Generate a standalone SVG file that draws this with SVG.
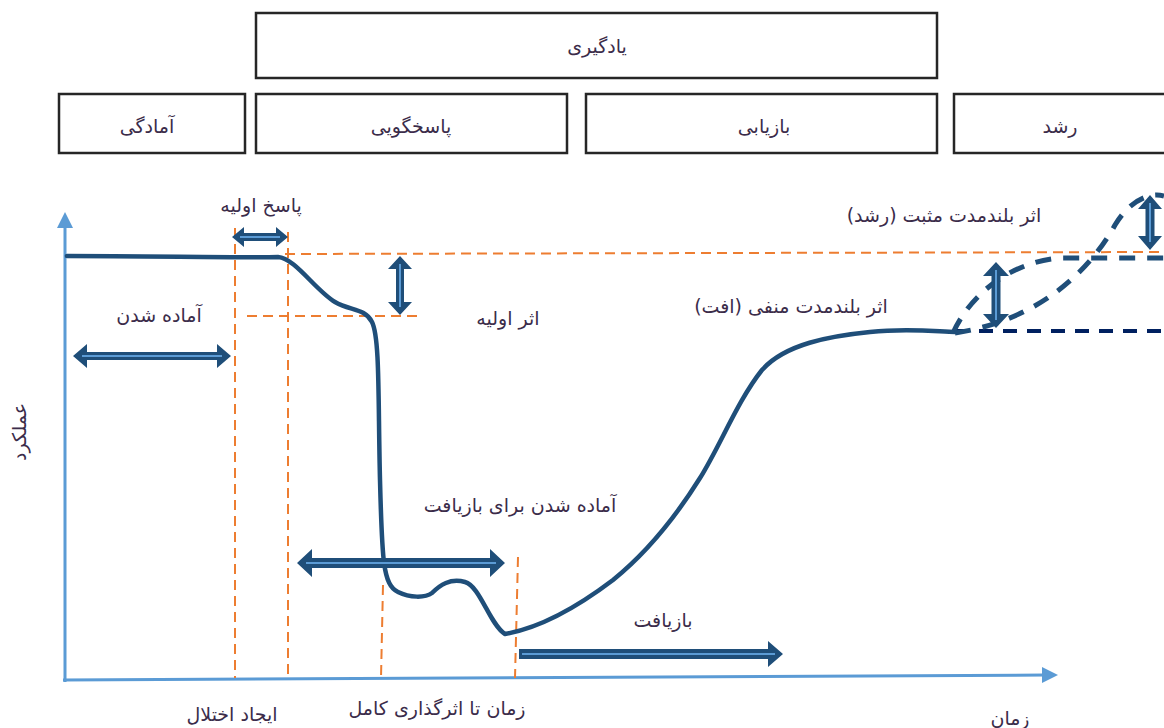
<svg xmlns="http://www.w3.org/2000/svg" width="1164" height="728" viewBox="0 0 1164 728">
<style>
.box{fill:#fff;stroke:#262626;stroke-width:2.5}
.t{font-family:"DejaVu Sans",sans-serif;font-size:19px;fill:#3b2c4a;text-anchor:middle}
.bt{font-family:"DejaVu Sans",sans-serif;font-size:19px;fill:#3b2c4a;text-anchor:middle}
.or{fill:none;stroke:#ed7d31;stroke-width:2;stroke-dasharray:10,6}
.ax{fill:none;stroke:#5b9bd5;stroke-width:3}
.axh{fill:#5b9bd5}
.curve{fill:none;stroke:#1f4e79;stroke-width:4.5;stroke-linecap:round}
.dcurve{fill:none;stroke:#1f4e79;stroke-width:5;stroke-dasharray:16,12}
.dnavy{fill:none;stroke:#002060;stroke-width:4;stroke-dasharray:14,10}
.arr{fill:#1f4e79}
.arri{stroke:#5b9bd5;stroke-width:2}
</style>
<g id="boxes">
<g id="box-learning"><rect class="box" x="256" y="13" width="681" height="65"/><text class="bt" x="597" y="53">یادگیری</text></g>
<g id="box-readiness"><rect class="box" x="59" y="94" width="186" height="59"/><text class="bt" x="147" y="133">آمادگی</text></g>
<g id="box-response"><rect class="box" x="256" y="94" width="311" height="59"/><text class="bt" x="411" y="133">پاسخگویی</text></g>
<g id="box-recovery"><rect class="box" x="586" y="94" width="351" height="59"/><text class="bt" x="764" y="133">بازیابی</text></g>
<g id="box-growth"><rect class="box" x="954" y="94" width="215" height="59"/><text class="bt" x="1060" y="133">رشد</text></g>
</g>
<g id="axes">
<line class="ax" x1="65" y1="682" x2="65" y2="224"/>
<polygon class="axh" points="65,212 57,228 73,228"/>
<line class="ax" x1="63" y1="680" x2="1045" y2="675"/>
<polygon class="axh" points="1058,675 1042,667 1042,683"/>
<text class="t" transform="translate(26,432) rotate(-90)">عملکرد</text>
<text class="t" x="1010" y="725">زمان</text>
</g>
<g id="guides">
<line class="or" x1="235" y1="228" x2="235" y2="678"/>
<line class="or" x1="288" y1="232" x2="288" y2="680"/>
<line class="or" x1="383" y1="585" x2="381" y2="678"/>
<line class="or" x1="518" y1="557" x2="515" y2="678"/>
<line class="or" x1="285" y1="254" x2="1164" y2="252"/>
<line class="or" x1="247" y1="316" x2="417" y2="316"/>
</g>
<g id="connectors">
<path class="curve" d="M67,256 C150,256 250,258 278,257 C295,258 315,290 335,302 C350,311 365,308 372,322 C380,338 378,400 380,480 C382,560 383,585 398,592 C410,598 425,598 432,593 C440,585 450,578 465,582 C480,586 490,625 505,634 C540,628 580,605 613,580 C650,550 680,510 700,478 C720,446 738,400 762,370 C785,344 830,336 870,332 C910,328 940,332 955,332"/>
<line class="dnavy" x1="955" y1="331" x2="1164" y2="331"/>
<path class="dcurve" d="M953,333 C970,295 1010,262 1060,258 L1164,258"/>
<path class="dcurve" d="M955,333 C1040,320 1090,270 1115,225 C1130,200 1150,192 1164,196"/>
</g>
<g id="arrows">
<g id="arrow-prep"><polygon class="arr" points="73,356 87,344 87,352 217,352 217,344 231,356 217,368 217,360 87,360 87,368"/><line class="arri" x1="82" y1="356" x2="222" y2="356"/></g>
<g id="arrow-initial-response"><polygon class="arr" points="232,237 244,227 244,233 276,233 276,227 288,237 276,247 276,241 244,241 244,247"/><line class="arri" x1="240" y1="237" x2="280" y2="237"/></g>
<g id="arrow-initial-effect"><polygon class="arr" points="400,256 412,269 404,269 404,302 412,302 400,315 388,302 396,302 396,269 388,269"/><line class="arri" x1="400" y1="264" x2="400" y2="307"/></g>
<g id="arrow-prep-recovery"><polygon class="arr" points="297,563 312,549 312,558 490,558 490,549 505,563 490,577 490,568 312,568 312,577"/><line class="arri" x1="306" y1="563" x2="496" y2="563"/></g>
<g id="arrow-recovery"><polygon class="arr" points="519,649 768,649 768,641 783,654 768,667 768,659 519,659"/><line class="arri" x1="522" y1="654" x2="775" y2="654"/></g>
<g id="arrow-negative"><polygon class="arr" points="996,262 1009,276 1000.5,276 1000.5,314 1009,314 996,328 983,314 991.5,314 991.5,276 983,276"/><line class="arri" x1="996" y1="270" x2="996" y2="320"/></g>
<g id="arrow-positive"><polygon class="arr" points="1150,195 1162,209 1154.5,209 1154.5,236 1162,236 1150,250 1138,236 1145.5,236 1145.5,209 1138,209"/><line class="arri" x1="1150" y1="203" x2="1150" y2="242"/></g>
</g>
<g id="labels">
<text class="t" x="159" y="322">آماده شدن</text>
<text class="t" x="261" y="212">پاسخ اولیه</text>
<text class="t" x="508" y="325">اثر اولیه</text>
<text class="t" x="944" y="222">اثر بلندمدت مثبت (رشد)</text>
<text class="t" x="791" y="313">اثر بلندمدت منفی (افت)</text>
<text class="t" x="520" y="512">آماده شدن برای بازیافت</text>
<text class="t" x="663" y="627">بازیافت</text>
<text class="t" x="232" y="721">ایجاد اختلال</text>
<text class="t" x="437" y="715">زمان تا اثرگذاری کامل</text>
</g>
</svg>
